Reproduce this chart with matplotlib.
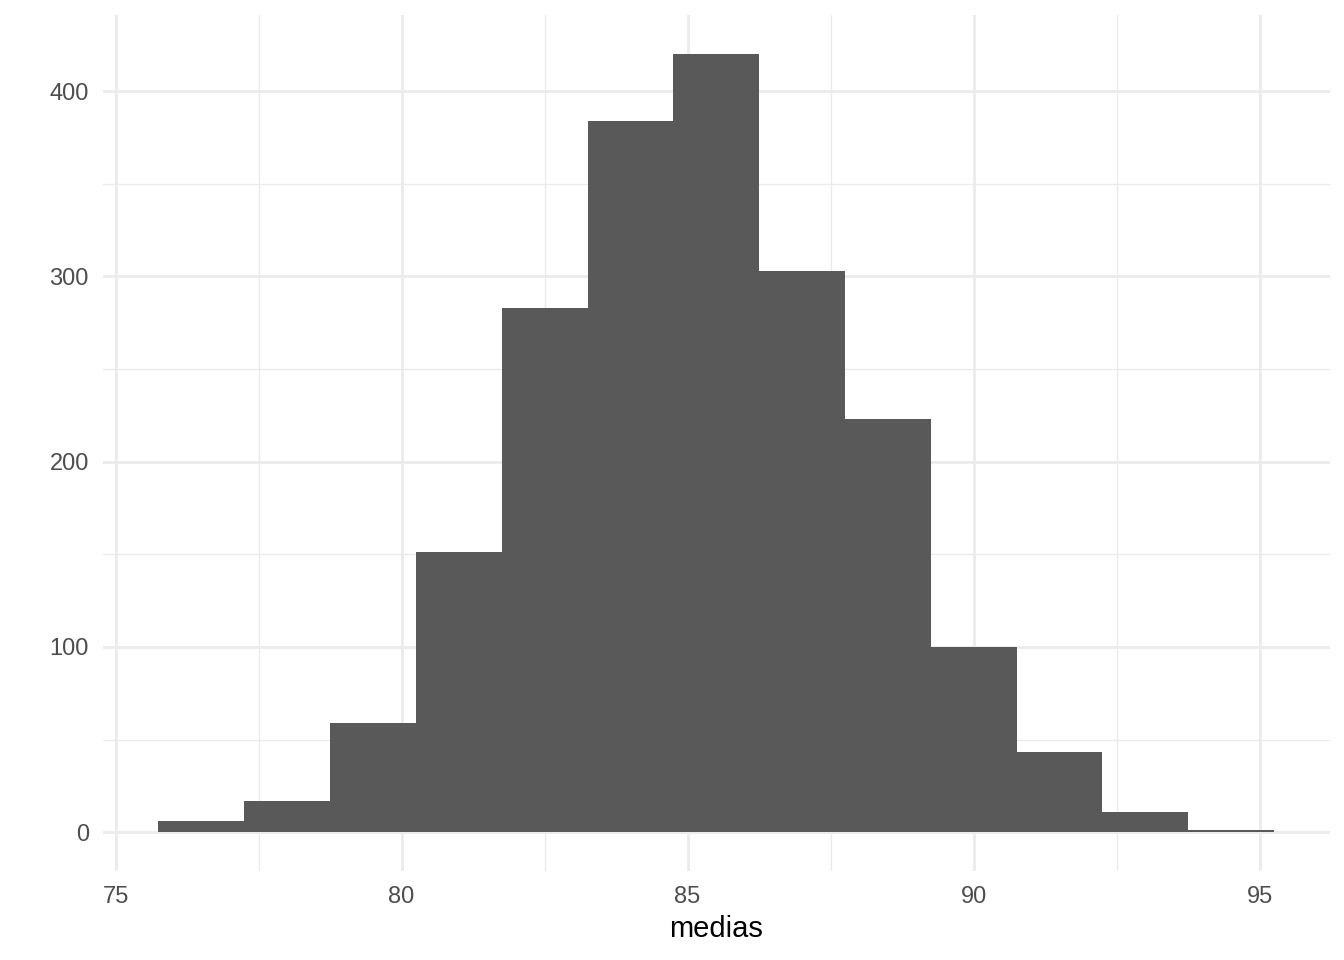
import matplotlib
matplotlib.use('Agg')
import matplotlib.pyplot as plt

# histogram bins
bin_edges = [75.75, 77.25, 78.75, 80.25, 81.75, 83.25, 84.75, 86.25,
             87.75, 89.25, 90.75, 92.25, 93.75, 95.25]
counts = [6, 17, 59, 151, 283, 384, 420, 303, 223, 100, 43, 11, 1]

x_ticks = [75, 80, 85, 90, 95]
x_minor = [77.5, 82.5, 87.5, 92.5]
y_ticks = [0, 100, 200, 300, 400]
y_minor = [50, 150, 250, 350]

plt.rcParams['font.family'] = ['Liberation Sans', 'DejaVu Sans']

fig = plt.figure(figsize=(13.44, 9.6), dpi=100)
ax = fig.add_axes([0.0764, 0.0927, 0.913, 0.8913])

widths = [b - a for a, b in zip(bin_edges[:-1], bin_edges[1:])]
ax.bar(bin_edges[:-1], counts, width=widths, align='edge',
       color='#595959', linewidth=0, zorder=2)

# ggplot-style expansion (5%)
xr = bin_edges[-1] - bin_edges[0]
ax.set_xlim(bin_edges[0] - 0.05 * xr, bin_edges[-1] + 0.05 * xr)
yr = max(counts)
ax.set_ylim(-0.05 * yr, yr * 1.05)

ax.set_xticks(x_ticks)
ax.set_xticks(x_minor, minor=True)
ax.set_yticks(y_ticks)
ax.set_yticks(y_minor, minor=True)

ax.grid(which='major', color='#EBEBEB', linewidth=2.0, zorder=0)
ax.grid(which='minor', color='#EBEBEB', linewidth=1.0, zorder=0)
ax.set_axisbelow(True)

for s in ax.spines.values():
    s.set_visible(False)
ax.tick_params(which='both', length=0, labelsize=17, labelcolor='#4D4D4D')
ax.tick_params(axis='x', pad=11)
ax.tick_params(axis='y', pad=10)

ax.set_xlabel('medias', fontsize=21, color='black', labelpad=5)

fig.savefig('out.png', dpi=100, facecolor='white')
